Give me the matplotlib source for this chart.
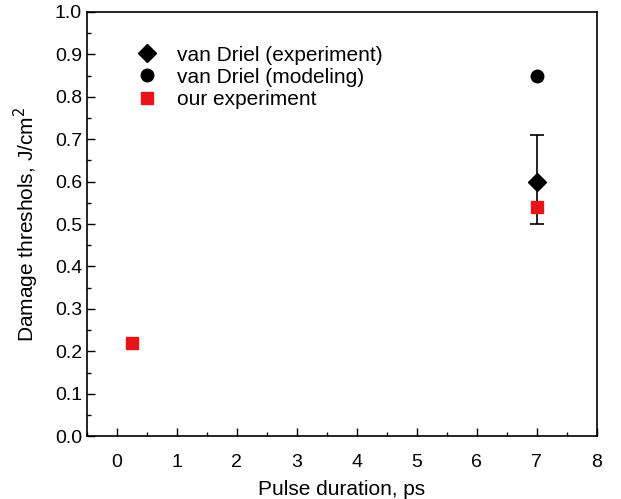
import matplotlib
matplotlib.use("Agg")
import matplotlib.pyplot as plt
from matplotlib.lines import Line2D

plt.rcParams['font.family'] = ['Liberation Sans', 'DejaVu Sans']

# van Driel (experiment)
exp_x = [7]
exp_y = [0.60]
exp_err_low = [0.10]
exp_err_high = [0.11]

# van Driel (modeling)
mod_x = [7]
mod_y = [0.85]

# our experiment
our_x = [0.25, 7]
our_y = [0.22, 0.54]

fig = plt.figure(figsize=(6.21, 4.99), dpi=100)
ax = fig.add_axes([0.140, 0.126, 0.821, 0.850])

ax.errorbar(exp_x, exp_y, yerr=[exp_err_low, exp_err_high], fmt='D', color='black',
            markersize=9, ecolor='black', elinewidth=1.2, capsize=5, capthick=1.2, zorder=3)
ax.plot(mod_x, mod_y, 'o', color='black', markersize=9, linestyle='none', zorder=3)
ax.plot(our_x, our_y, 's', color='#e8141b', markersize=8, linestyle='none', zorder=4)

ax.set_xlim(-0.5, 8)
ax.set_ylim(0, 1.0)
ax.set_xticks(range(0, 9))
ax.set_yticks([i / 10 for i in range(11)])
ax.set_xticks([i + 0.5 for i in range(-1, 8)], minor=True)
ax.set_yticks([i / 20 for i in range(21)], minor=True)
ax.tick_params(which='major', direction='in', length=6, width=1, labelsize=14)
ax.tick_params(which='minor', direction='in', length=3, width=1)
ax.tick_params(axis='x', pad=13)
for s in ax.spines.values():
    s.set_linewidth(1.2)

ax.set_xlabel('Pulse duration, ps', fontsize=15, labelpad=6)
ax.set_ylabel('Damage threshols, J/cm$^2$', fontsize=15, labelpad=10)

handles = [
    Line2D([], [], marker='D', color='black', linestyle='none', markersize=9),
    Line2D([], [], marker='o', color='black', linestyle='none', markersize=9),
    Line2D([], [], marker='s', color='#e8141b', linestyle='none', markersize=8),
]
labels = ['van Driel (experiment)', 'van Driel (modeling)', 'our experiment']
ax.legend(handles, labels, loc='upper left', bbox_to_anchor=(0.045, 0.96), frameon=False,
          fontsize=15, handletextpad=0.4, labelspacing=0.15, borderpad=0.3)

fig.savefig('out.png', dpi=100)
